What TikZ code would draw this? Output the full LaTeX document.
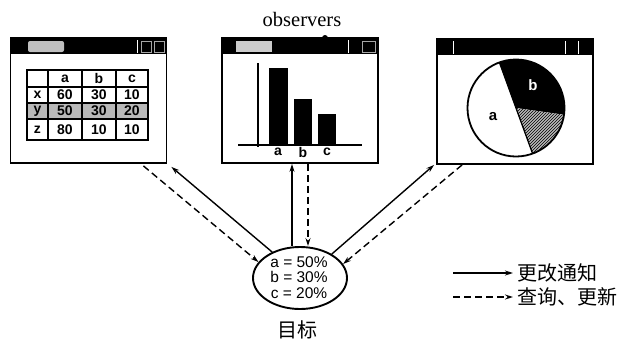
\documentclass[tikz,border=0pt]{standalone}
\usepackage{fontspec}
\setmainfont{Liberation Serif}
\newfontfamily\cjkf{Noto Sans CJK SC}
\newfontfamily\hvf{Liberation Sans}
\usetikzlibrary{arrows.meta,calc,shapes.geometric,patterns}

\begin{document}
\begin{tikzpicture}[x=1pt,y=-1pt,
  win/.style={draw, line width=1.8pt, minimum width=156pt, minimum height=125pt, inner sep=0pt, fill=white},
  tbar/.style={fill=black},
  tcell/.style={font=\hvf\bfseries\fontsize{14}{14}\selectfont, inner sep=0pt},
  barlbl/.style={font=\hvf\bfseries\fontsize{14}{14}\selectfont, inner sep=0pt},
  tline/.style={line width=1.5pt},
  notify/.style={line width=1.4pt, -{Stealth[length=8pt,width=5pt]}},
  query/.style={line width=1.4pt, dash pattern=on 7pt off 4pt, -{Stealth[length=8pt,width=5pt]}},
  cjklbl/.style={font=\cjkf\fontsize{20}{20}\selectfont, inner sep=0pt}
]
\useasboundingbox (0,0) rectangle (625,341);

% ---------- title ----------
\node[font=\fontsize{20.5}{20.5}\selectfont, inner sep=0pt] (obs) at (302,19) {observers};

% ---------- windows ----------
\node[win] (w1) at (88.5,100.5) {};
\node[win] (w2) at (300,100.5) {};
\node[win] (w3) at (515,101.5) {};

\foreach \w in {w1,w2,w3}{
  \fill[tbar] (\w.north west) rectangle ($(\w.north east)+(0,17)$);
}
% title bar details
\fill[gray!50, rounded corners=2pt] (28,41) rectangle (64,52);
\draw[white, line width=0.6pt] (137,40) -- (137,53);
\draw[gray!70, line width=0.6pt] (141,41) rectangle (151,52) (154,41) rectangle (164,52);
\fill[gray!40] (236,41) rectangle (272,52);
\draw[white, line width=0.6pt] (348,40) -- (348,53);
\draw[gray!70, line width=0.6pt] (362,41) rectangle (375,52);
\fill (325,38) circle (3pt);
\draw[white, line width=0.6pt] (453,41) -- (453,54) (565,41) -- (565,54) (578,41) -- (578,54);

% ---------- table (left window) ----------
\fill[gray!55] (27,103) rectangle (148,119);
\draw[tline] (27,70) rectangle (148,140);
\draw[tline] (27,87) -- (148,87) (27,103) -- (148,103) (27,119) -- (148,119);
\draw[tline] (48,70) -- (48,140) (82,70) -- (82,140) (116,70) -- (116,140);
\node[tcell] (ha) at (65,78.5) {a};
\node[tcell] (hb) at (99,78.5) {b};
\node[tcell] (hc) at (132,78.5) {c};
\node[tcell] (rx) at (37.5,95) {x};
\node[tcell] (xa) at (65,95) {60};
\node[tcell] (xb) at (99,95) {30};
\node[tcell] (xc) at (132,95) {10};
\node[tcell] (ry) at (37.5,111) {y};
\node[tcell] (ya) at (65,111) {50};
\node[tcell] (yb) at (99,111) {30};
\node[tcell] (yc) at (132,111) {20};
\node[tcell] (rz) at (37.5,129.5) {z};
\node[tcell] (za) at (65,129.5) {80};
\node[tcell] (zb) at (99,129.5) {10};
\node[tcell] (zc) at (132,129.5) {10};

% ---------- bar chart (middle window) ----------
\draw[line width=1.2pt] (258,63) -- (258,147);
\draw[line width=1.2pt] (238,145) -- (362,145);
\fill (269,68) rectangle (288,145);
\fill (294,99) rectangle (312,145);
\fill (318,114) rectangle (336,145);
\node[barlbl] (ba) at (278,152) {a};
\node[barlbl] (bb) at (303,152) {b};
\node[barlbl] (bc) at (327,152) {c};

% ---------- pie chart (right window) ----------
\begin{scope}[shift={(516,108)}, y=1pt]
  \fill[black] (0,0) -- (-8:48.5) arc[start angle=-8, end angle=110, radius=48.5] -- cycle;
  \fill[gray!55] (0,0) -- (-70:48.5) arc[start angle=-70, end angle=-8, radius=48.5] -- cycle;
  \fill[pattern=north east lines, pattern color=black] (0,0) -- (-70:48.5) arc[start angle=-70, end angle=-8, radius=48.5] -- cycle;
  \draw[line width=1.3pt] (110:48.5) -- (-70:48.5);
  \draw[line width=1.8pt] (0,0) circle (48.5);
\end{scope}
\node[font=\hvf\bfseries\fontsize{15}{15}\selectfont, inner sep=0pt] (pa) at (493,117) {a};
\node[font=\hvf\bfseries\fontsize{15}{15}\selectfont, inner sep=0pt, text=white] (pb) at (533,85) {b};

% ---------- subject ----------
\node[ellipse, draw, line width=1.9pt, minimum width=94pt, minimum height=62pt, inner sep=0pt] (goal) at (300,278) {};
\node[align=center, font=\hvf\fontsize{15.5}{15.5}\selectfont, inner sep=0pt] (goaltxt) at (299,277.5) {a = 50\%\\b = 30\%\\c = 20\%};
\node[cjklbl] (goallbl) at (297,330) {目标};

% ---------- connectors ----------
\coordinate (w1n) at ($(w1.south east)+(4,3)$);
\coordinate (w1q) at ($(w1.south east)+(-24,2)$);
\coordinate (w2n) at ($(w2.south)+(-8,0)$);
\coordinate (w2q) at ($(w2.south)+(8,0)$);
\coordinate (w3n) at ($(w3.south west)+(-2,0)$);
\coordinate (w3q) at ($(w3.south west)+(26,0)$);

\draw[notify] (goal.137) -- (w1n);
\draw[query] (w1q) -- (goal.159);
\draw[notify] (w2n |- goal.north) -- (w2n);
\draw[query] (w2q) -- (w2q |- goal.north);
\draw[notify] (goal.37) -- (w3n);
\draw[query] (w3q) -- (goal.18);

% ---------- legend ----------
\coordinate (l1a) at (453,273);
\coordinate (l1b) at (513,273);
\coordinate (l2a) at (453,297);
\coordinate (l2b) at (513,297);
\draw[notify] (l1a) -- (l1b);
\draw[query] (l2a) -- (l2b);
\node[cjklbl, anchor=west] (lt1) at (517,273) {更改通知};
\node[cjklbl, anchor=west] (lt2) at (517,297) {查询、更新};
\end{tikzpicture}
\end{document}
